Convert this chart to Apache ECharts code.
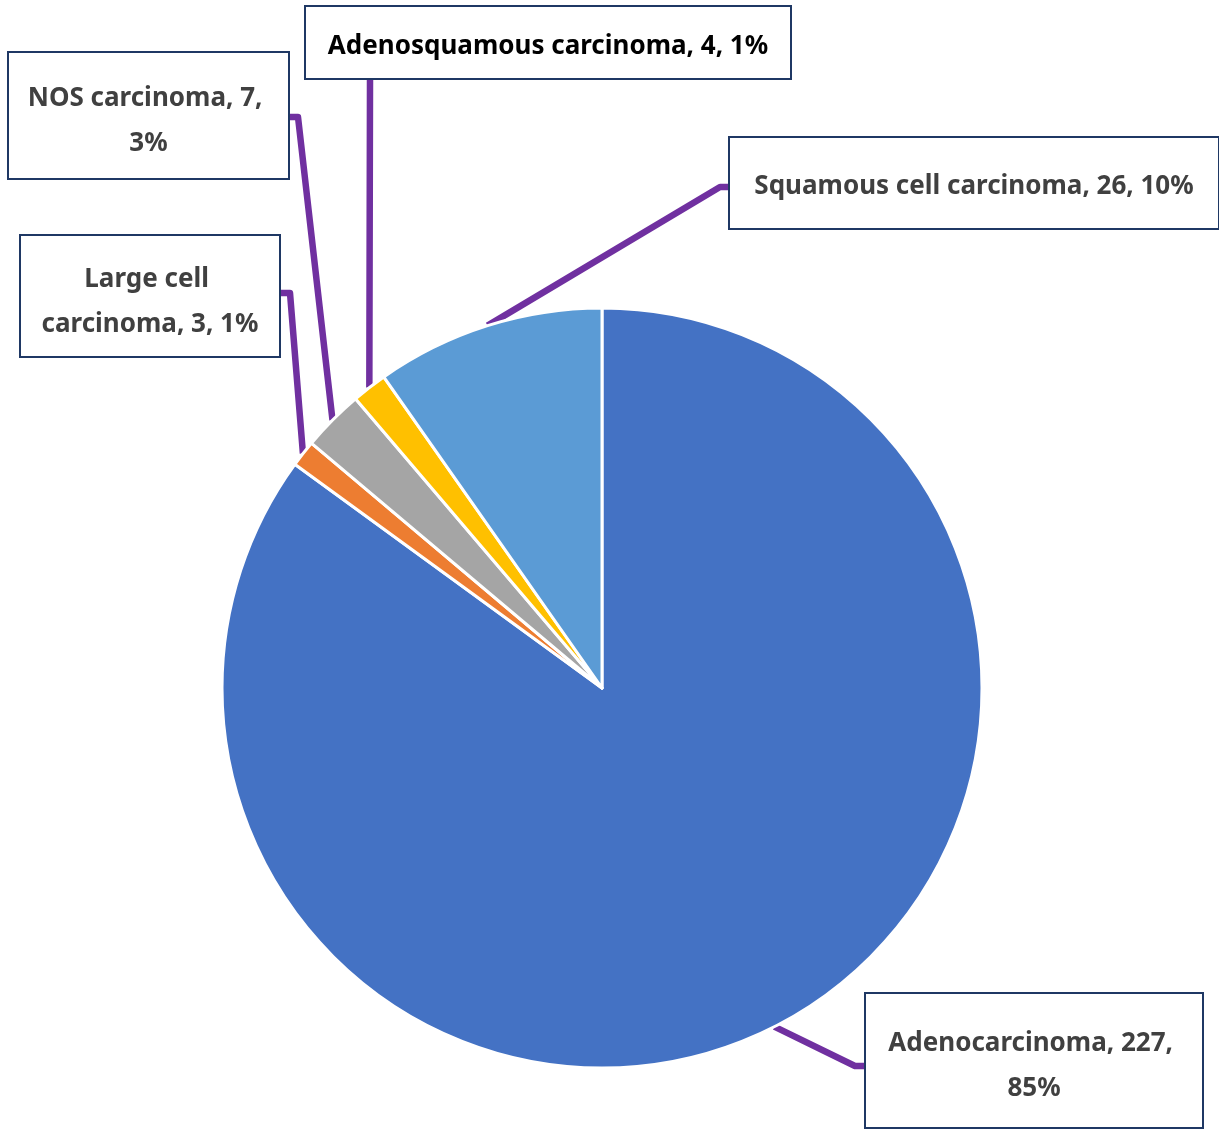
<!DOCTYPE html>
<html>
<head>
<meta charset="utf-8">
<script src="https://cdn.jsdelivr.net/npm/echarts@6/dist/echarts.min.js"></script>
<style>
  html, body { margin: 0; padding: 0; background: #ffffff; }
  #chart { width: 1219px; height: 1132px; }
</style>
</head>
<body>
<div id="chart"></div>
<script>
// Histologic subtypes, listed clockwise from 12 o'clock
const categories = [
  'Adenocarcinoma',
  'Large cell carcinoma',
  'NOS carcinoma',
  'Adenosquamous carcinoma',
  'Squamous cell carcinoma'
];
const counts = [227, 3, 7, 4, 26];
const sliceColors = ['#4472C4', '#ED7D31', '#A5A5A5', '#FFC000', '#5B9BD5'];
const labelColors = ['#404040', '#404040', '#404040', '#000000', '#404040'];

// Callout boxes: left, top, width, height, and the bend of each leader line
const callouts = [
  { x: 866, y: 994, w: 336, h: 133, bend: [855, 1066], end: [866, 1066] },
  { x: 21,  y: 236, w: 258, h: 120, bend: [290, 293],  end: [279, 293] },
  { x: 9,   y: 53,  w: 279, h: 125, bend: [298, 117],  end: [288, 117] },
  { x: 306, y: 7,   w: 484, h: 71,  bend: [370, 80],   end: [370, 78] },
  { x: 730, y: 138, w: 488, h: 90,  bend: [720, 187],  end: [730, 187] }
];

const total = counts.reduce((a, b) => a + b, 0);
const LINE_H = 45;
const FONT = 26;
const TEXT_SHIFT = 6;

const pieData = categories.map((name, i) => {
  const c = callouts[i];
  const lines = c.h > 100 ? 2 : 1;
  const padV = Math.max(0, (c.h - lines * LINE_H) / 2);
  const shift = lines === 1 ? TEXT_SHIFT - 2 : TEXT_SHIFT;
  return {
    name: name,
    value: counts[i],
    itemStyle: { color: sliceColors[i] },
    label: {
      color: labelColors[i],
      width: c.w - 24,
      padding: [padV + shift, 12, padV - shift, 12]
    }
  };
});

const chart = echarts.init(document.getElementById('chart'), null, { renderer: 'canvas' });

chart.setOption({
  backgroundColor: '#ffffff',
  animation: false,
  series: [{
    type: 'pie',
    center: [602, 688],
    radius: 380,
    startAngle: 90,
    clockwise: true,
    avoidLabelOverlap: false,
    data: pieData,
    itemStyle: { borderColor: '#ffffff', borderWidth: 3 },
    label: {
      show: true,
      position: 'outside',
      formatter: p => p.name + ', ' + p.value + ', ' + Math.round(p.value / total * 100) + '%',
      fontFamily: '"Noto Sans", "Open Sans", sans-serif',
      fontWeight: 'bold',
      fontSize: FONT,
      lineHeight: LINE_H,
      align: 'center',
      overflow: 'break',
      backgroundColor: '#ffffff',
      borderColor: '#1F3864',
      borderWidth: 2
    },
    labelLine: {
      show: true,
      lineStyle: { color: '#7030A0', width: 6.5, cap: 'butt', join: 'round' }
    },
    labelLayout: function (params) {
      const c = callouts[params.dataIndex];
      const start = params.labelLinePoints ? params.labelLinePoints[0] : c.bend;
      return {
        x: c.x + c.w / 2,
        y: c.y,
        align: 'center',
        verticalAlign: 'top',
        labelLinePoints: [start, c.bend, c.end]
      };
    }
  }]
});
</script>
</body>
</html>
